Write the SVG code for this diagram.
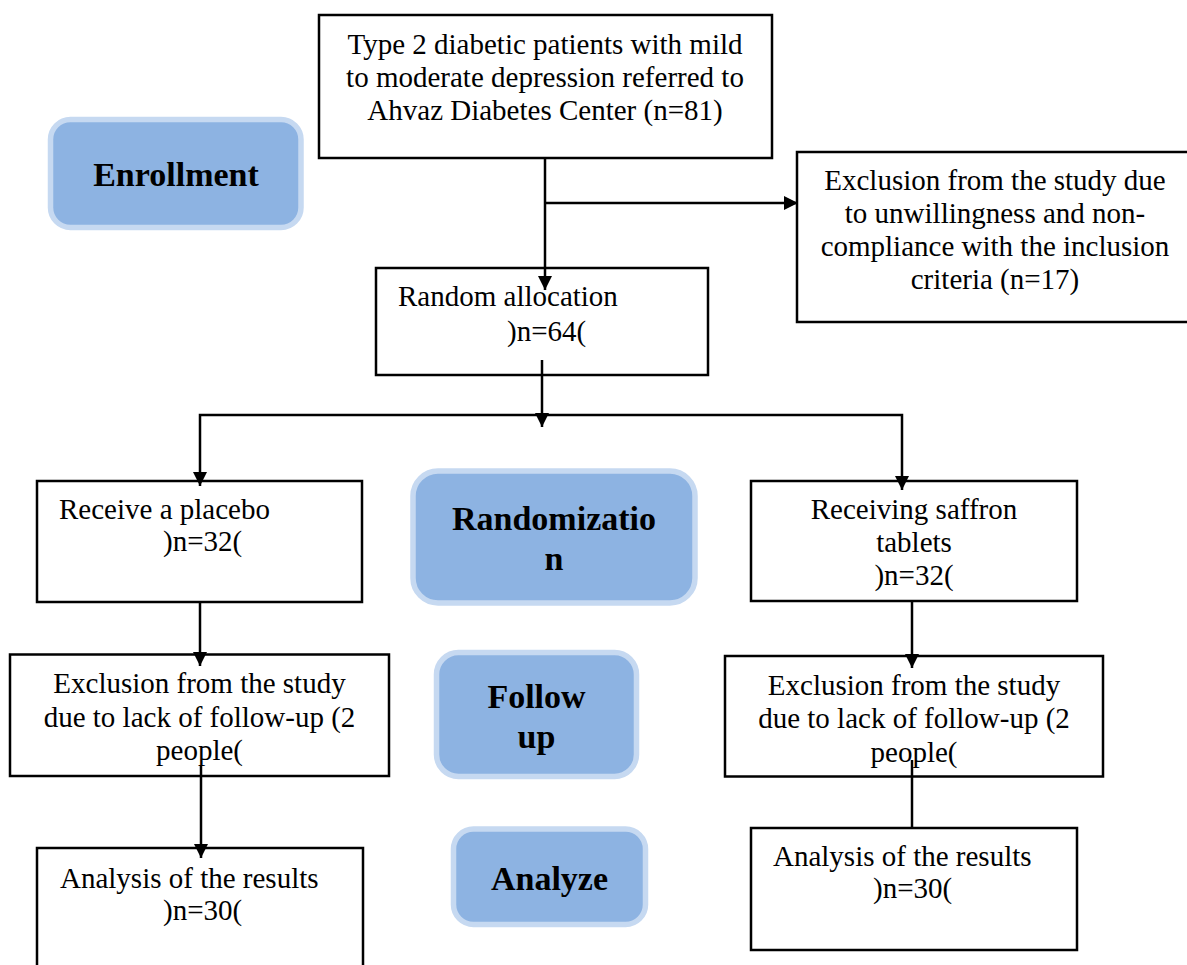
<svg xmlns="http://www.w3.org/2000/svg" width="1187" height="965" viewBox="0 0 1187 965">
<style>
.box{fill:#fff;stroke:#000;stroke-width:2.5}
.phase{fill:#8DB3E2;stroke:#C6D9F1;stroke-width:5.5}
.t{font-family:"Liberation Serif","Times New Roman",serif;font-size:29px;fill:#000}
.c{text-anchor:middle}
.b{font-family:"Liberation Serif","Times New Roman",serif;font-size:34px;font-weight:bold;fill:#000;text-anchor:middle}
.ln{fill:none;stroke:#000;stroke-width:2.5}
</style>
<defs>
<marker id="arr" markerUnits="userSpaceOnUse" markerWidth="14" markerHeight="14" refX="14" refY="7" orient="auto">
<path d="M0,0 L14,7 L0,14 z" fill="#000"/>
</marker>
</defs>
<rect width="1187" height="965" fill="#fff"/>

<g id="enrollment">
<rect class="phase" x="50.5" y="119.5" width="250.5" height="108" rx="20"/>
<text class="b" x="176" y="186">Enrollment</text>
</g>
<g id="randomization">
<rect class="phase" x="413" y="471" width="282" height="132" rx="25"/>
<text class="b" x="554" y="530">Randomizatio</text>
<text class="b" x="554" y="570">n</text>
</g>
<g id="followup">
<rect class="phase" x="436.5" y="652.5" width="200" height="124" rx="22"/>
<text class="b" x="536.5" y="708">Follow</text>
<text class="b" x="536.5" y="748">up</text>
</g>
<g id="analyze">
<rect class="phase" x="453.5" y="829" width="192" height="95.5" rx="20"/>
<text class="b" x="549.5" y="890">Analyze</text>
</g>

<g id="patients">
<rect class="box" x="319" y="15" width="453" height="143"/>
<text class="t c" x="545" y="54">Type 2 diabetic patients with mild</text>
<text class="t c" x="545" y="87">to moderate depression referred to</text>
<text class="t c" x="545" y="120">Ahvaz Diabetes Center (n=81)</text>
</g>
<g id="exclusion1">
<rect class="box" x="797" y="152" width="400" height="170"/>
<text class="t c" x="995" y="190">Exclusion from the study due</text>
<text class="t c" x="995" y="223">to unwillingness and non-</text>
<text class="t c" x="995" y="256">compliance with the inclusion</text>
<text class="t c" x="995" y="289">criteria (n=17)</text>
</g>
<g id="random-allocation">
<rect class="box" x="376" y="268" width="332" height="107"/>
<text class="t" x="398" y="306">Random allocation</text>
<text class="t" x="507" y="341">)n=64(</text>
</g>
<g id="placebo">
<rect class="box" x="37" y="481" width="325" height="121"/>
<text class="t" x="59" y="519">Receive a placebo</text>
<text class="t" x="163" y="551">)n=32(</text>
</g>
<g id="saffron">
<rect class="box" x="751" y="481" width="326" height="120"/>
<text class="t c" x="914" y="519">Receiving saffron</text>
<text class="t c" x="914" y="552">tablets</text>
<text class="t c" x="914" y="585">)n=32(</text>
</g>
<g id="followup-left">
<rect class="box" x="10" y="654.5" width="379" height="121.5"/>
<text class="t c" x="199.5" y="693">Exclusion from the study</text>
<text class="t c" x="199.5" y="727">due to lack of follow-up (2</text>
<text class="t c" x="199.5" y="760">people(</text>
</g>
<g id="followup-right">
<rect class="box" x="725" y="656" width="378" height="120.5"/>
<text class="t c" x="914" y="695">Exclusion from the study</text>
<text class="t c" x="914" y="728">due to lack of follow-up (2</text>
<text class="t c" x="914" y="762">people(</text>
</g>
<g id="analysis-left">
<rect class="box" x="37" y="848" width="326" height="130"/>
<text class="t" x="60" y="888">Analysis of the results</text>
<text class="t" x="163" y="920">)n=30(</text>
</g>
<g id="analysis-right">
<rect class="box" x="751" y="828" width="326" height="122"/>
<text class="t" x="773" y="866">Analysis of the results</text>
<text class="t" x="873" y="898">)n=30(</text>
</g>

<g id="connectors">
<path class="ln" d="M545,158 L545,290" marker-end="url(#arr)"/>
<path class="ln" d="M545,203 L798,203" marker-end="url(#arr)"/>
<path class="ln" d="M542,360 L542,427" marker-end="url(#arr)"/>
<path class="ln" d="M542,415 L200,415 L200,486" marker-end="url(#arr)"/>
<path class="ln" d="M542,415 L902,415 L902,490" marker-end="url(#arr)"/>
<path class="ln" d="M200,602 L200,666" marker-end="url(#arr)"/>
<path class="ln" d="M201,766 L201,858" marker-end="url(#arr)"/>
<path class="ln" d="M912,601 L912,668" marker-end="url(#arr)"/>
<path class="ln" d="M912,760 L912,828"/>
</g>
</svg>
